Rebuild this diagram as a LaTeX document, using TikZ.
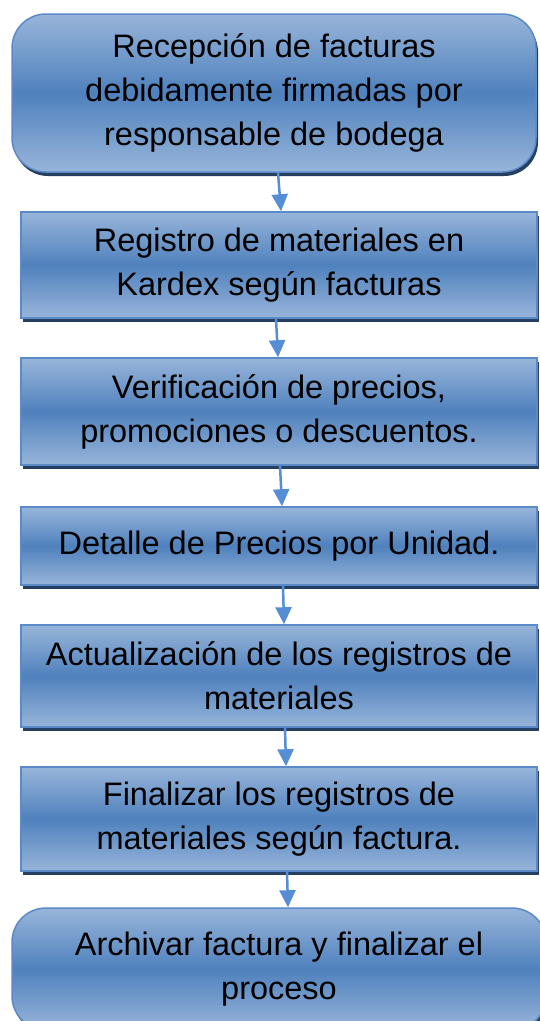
\documentclass[tikz,border=0pt]{standalone}
\usepackage{fontspec}
\setmainfont{Liberation Sans}
\usetikzlibrary{arrows.meta,shadows}

\definecolor{boxlight}{HTML}{98B5DA}
\definecolor{boxdark}{HTML}{4F81BD}
\definecolor{boxline}{HTML}{5A8BC8}
\definecolor{boxshadow}{HTML}{243F60}
\definecolor{arrowblue}{HTML}{558ED5}

\begin{document}
\begin{tikzpicture}[x=1pt, y=1pt,
  flowbox/.style = {rectangle, draw = boxline, line width = 1.5pt,
    top color = boxlight, bottom color = boxlight, middle color = boxdark,
    general shadow = {fill = boxshadow, shadow xshift = 2pt, shadow yshift = -4pt},
    align = center, inner sep = 0pt, minimum width = 516pt,
    font = \fontsize{32.5}{44}\selectfont},
  roundbox/.style = {flowbox, rounded corners = 34pt},
  flowarrow/.style = {-{Triangle[width = 16pt, length = 17pt]}, draw = arrowblue, line width = 2.5pt}]

\useasboundingbox (0,0) rectangle (540,-1021);
\clip (0,0) rectangle (540,-1021);

\node[roundbox, minimum width = 524pt, minimum height = 158pt] (b1) at (274,-93)
  {Recepción de facturas\\debidamente firmadas por\\responsable de bodega};
\node[flowbox, minimum height = 106pt] (b2) at (279,-265)
  {Registro de materiales en\\Kardex según facturas};
\node[flowbox, minimum height = 107pt] (b3) at (279,-411.5)
  {Verificación de precios,\\promociones o descuentos.};
\node[flowbox, minimum height = 78pt] (b4) at (279,-546)
  {Detalle de Precios por Unidad.};
\node[flowbox, minimum height = 102pt] (b5) at (279,-676)
  {Actualización de los registros de\\materiales};
\node[flowbox, minimum height = 104pt] (b6) at (279,-819)
  {Finalizar los registros de\\materiales según factura.};
\node[roundbox, minimum width = 534pt, minimum height = 122pt] (b7) at (279,-969)
  {Archivar factura y finalizar el\\proceso};

% Connect steps
\draw[flowarrow] ([xshift = 4pt]b1.south) -- ([xshift = 2pt]b2.north);
\draw[flowarrow] ([xshift = -3pt]b2.south) -- ([xshift = -1pt]b3.north);
\draw[flowarrow] ([xshift = 1pt]b3.south) -- ([xshift = 3pt]b4.north);
\draw[flowarrow] ([xshift = 4pt]b4.south) -- ([xshift = 5pt]b5.north);
\draw[flowarrow] ([xshift = 6pt]b5.south) -- ([xshift = 7pt]b6.north);
\draw[flowarrow] ([xshift = 8pt]b6.south) -- ([xshift = 9pt]b7.north);

\end{tikzpicture}
\end{document}
